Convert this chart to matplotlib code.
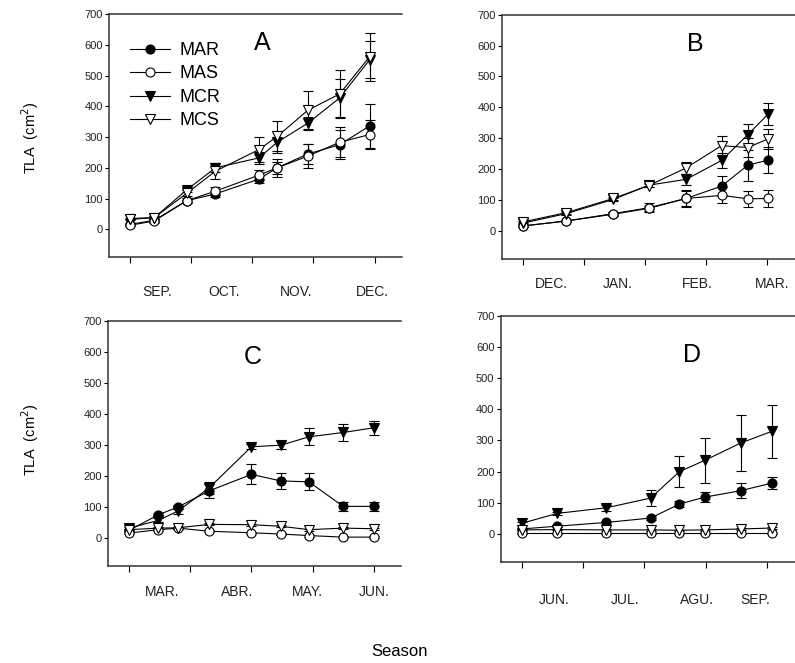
import matplotlib
matplotlib.use('Agg')
import matplotlib.pyplot as plt

plt.rcParams['font.family'] = ['Liberation Sans', 'DejaVu Sans']

# ---- data (x in months from first sampling tick) ----
A_X = [0, 0.40, 0.93, 1.40, 2.11, 2.41, 2.91, 3.43, 3.92]
A_MAR = [16, 29, 93, 115, 163, 200, 245, 275, 336]
A_MAR_ERR = [3, 5, 8, 10, 14, 20, 32, 48, 72]
A_MAS = [13, 27, 93, 124, 176, 200, 238, 283, 308]
A_MAS_ERR = [3, 5, 8, 14, 16, 30, 38, 48, 46]
A_MCR = [32, 38, 128, 200, 232, 283, 345, 427, 551]
A_MCR_ERR = [3, 5, 8, 15, 20, 35, 20, 62, 60]
A_MCS = [35, 38, 117, 189, 259, 302, 387, 440, 561]
A_MCS_ERR = [3, 5, 10, 27, 41, 49, 64, 78, 78]
A_MONTHS = ['SEP.', 'OCT.', 'NOV.', 'DEC.']

B_X = [0, 0.71, 1.48, 2.06, 2.67, 3.25, 3.68, 4.01]
B_MAR = [16, 32, 54, 73, 105, 145, 213, 229]
B_MAR_ERR = [3, 4, 6, 8, 27, 32, 50, 43]
B_MAS = [16, 32, 56, 75, 105, 115, 104, 105]
B_MAS_ERR = [3, 4, 6, 14, 24, 26, 26, 29]
B_MCR = [25, 56, 102, 148, 167, 228, 312, 378]
B_MCR_ERR = [3, 4, 6, 6, 18, 24, 35, 36]
B_MCS = [29, 59, 105, 147, 204, 276, 270, 298]
B_MCS_ERR = [3, 4, 6, 6, 20, 30, 30, 32]
B_MONTHS = ['DEC.', 'JAN.', 'FEB.', 'MAR.']

C_X = [0, 0.48, 0.80, 1.31, 2.0, 2.48, 2.94, 3.50, 4.0]
C_MAR = [25, 75, 100, 152, 205, 184, 181, 102, 102]
C_MAR_ERR = [3, 6, 8, 22, 32, 27, 27, 15, 15]
C_MAS = [16, 27, 32, 22, 17, 13, 8, 3, 3]
C_MAS_ERR = [3, 3, 3, 3, 3, 3, 3, 3, 3]
C_MCR = [32, 57, 87, 162, 294, 299, 326, 340, 355]
C_MCR_ERR = [3, 6, 8, 20, 8, 12, 27, 26, 22]
C_MCS = [27, 32, 33, 44, 43, 38, 27, 32, 30]
C_MCS_ERR = [3, 3, 3, 3, 3, 3, 3, 3, 3]
C_MONTHS = ['MAR.', 'ABR.', 'MAY.', 'JUN.']

D_X = [0, 0.58, 1.38, 2.10, 2.57, 2.98, 3.57, 4.07]
D_MAR = [16, 25, 37, 51, 96, 118, 139, 163]
D_MAR_ERR = [3, 4, 5, 6, 10, 16, 23, 20]
D_MAS = [2, 2, 2, 2, 2, 2, 2, 2]
D_MAS_ERR = [2, 2, 2, 2, 2, 2, 2, 2]
D_MCR = [34, 66, 84, 115, 200, 236, 292, 329]
D_MCR_ERR = [4, 6, 10, 25, 49, 73, 91, 84]
D_MCS = [13, 14, 13, 13, 12, 13, 16, 19]
D_MCS_ERR = [2, 2, 2, 2, 2, 2, 3, 3]
D_MONTHS = ['JUN.', 'JUL.', 'AGU.', 'SEP.']

SERIES = ['MAR', 'MAS', 'MCR', 'MCS']
YTICKS = [0, 100, 200, 300, 400, 500, 600, 700]

STYLE = {
    'MAR': dict(marker='o', mfc='black'),
    'MAS': dict(marker='o', mfc='white'),
    'MCR': dict(marker='v', mfc='black'),
    'MCS': dict(marker='v', mfc='white'),
}

fig = plt.figure(figsize=(7.95, 6.63), dpi=100)

panels = [
    ('A', [0.1371, 0.6124, 0.3686, 0.3665], A_X,
     [(A_MAR, A_MAR_ERR), (A_MAS, A_MAS_ERR), (A_MCR, A_MCR_ERR), (A_MCS, A_MCS_ERR)],
     A_MONTHS, [0.44, 1.55, 2.72, 3.97], 20, (2.17, 606)),
    ('B', [0.6314, 0.6098, 0.3686, 0.368], B_X,
     [(B_MAR, B_MAR_ERR), (B_MAS, B_MAS_ERR), (B_MCR, B_MCR_ERR), (B_MCS, B_MCS_ERR)],
     B_MONTHS, [0.46, 1.56, 2.86, 4.07], 13, (2.82, 606)),
    ('C', [0.1362, 0.1463, 0.3686, 0.37], C_X,
     [(C_MAR, C_MAR_ERR), (C_MAS, C_MAS_ERR), (C_MCR, C_MCR_ERR), (C_MCS, C_MCS_ERR)],
     C_MONTHS, [0.54, 1.77, 2.91, 4.01], 14, (2.02, 583)),
    ('D', [0.6298, 0.1523, 0.3702, 0.3715], D_X,
     [(D_MAR, D_MAR_ERR), (D_MAS, D_MAS_ERR), (D_MCR, D_MCR_ERR), (D_MCS, D_MCS_ERR)],
     D_MONTHS, [0.53, 1.68, 2.85, 3.80], 22, (2.77, 573)),
]

for letter, rect, xs, data, months, mpos, pad, lpos in panels:
    ax = fig.add_axes(rect)
    handles = []
    for name, (vals, errs) in zip(SERIES, data):
        ax.errorbar(xs, vals, yerr=errs, fmt='none', ecolor='black',
                    elinewidth=0.8, capsize=3.5, capthick=0.8, zorder=2)
        ln, = ax.plot(xs, vals, color='black', lw=0.8, ms=6.5, mec='black',
                      mew=0.8, zorder=3, label=name, **STYLE[name])
        handles.append(ln)
    ax.set_xlim(-0.34, 4.45)
    ax.set_ylim(-90, 700)
    ax.set_yticks(YTICKS)
    ax.set_yticklabels([str(v) for v in YTICKS], fontsize=8, color='#222222')
    ax.tick_params(axis='y', direction='out', length=3, width=0.8, pad=1.5)
    ax.set_xticks([0, 1, 2, 3, 4])
    ax.set_xticklabels([])
    ax.tick_params(axis='x', which='major', direction='out', length=4.5, width=0.8)
    ax.set_xticks(mpos, minor=True)
    ax.set_xticklabels(months, minor=True, fontsize=10, color='#222222')
    ax.tick_params(axis='x', which='minor', length=0, pad=pad)
    ax.spines['right'].set_visible(False)
    for s in ['left', 'bottom', 'top']:
        ax.spines[s].set_linewidth(1.1)
        ax.spines[s].set_color('#333333')
    ax.text(lpos[0], lpos[1], letter, fontsize=18, ha='center', va='center')
    if letter == 'A':
        ax.legend(handles=handles, loc='upper left', bbox_to_anchor=(0.072, 0.885),
                  frameon=False, fontsize=13, borderaxespad=0, borderpad=0,
                  handlelength=2.2, handletextpad=0.55, labelspacing=0.36)

fig.text(30 / 795, 1 - 138 / 663, 'TLA  (cm$^2$)', rotation=90, fontsize=10.5,
         ha='center', va='center')
fig.text(30 / 795, 1 - 440 / 663, 'TLA  (cm$^2$)', rotation=90, fontsize=10.5,
         ha='center', va='center')
fig.text(400 / 795, 1 - 652 / 663, 'Season', fontsize=12, ha='center', va='center')

plt.savefig('out.png', dpi=100)
plt.close()
